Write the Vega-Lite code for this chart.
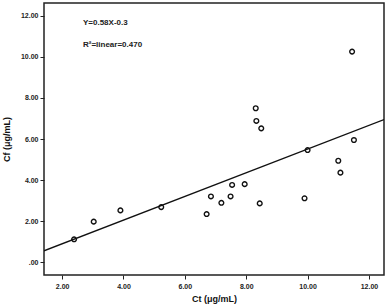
{
  "$schema": "https://vega.github.io/schema/vega-lite/v6.json",
  "width": 340,
  "height": 272,
  "autosize": {"type": "none"},
  "padding": {"left": 44, "top": 3, "right": 5, "bottom": 31},
  "background": "white",
  "config": {
    "view": {"stroke": "#222", "strokeWidth": 1.5},
    "font": "Liberation Sans",
    "axis": {
      "grid": false,
      "domain": false,
      "tickColor": "#222",
      "tickSize": 4,
      "labelFont": "Liberation Sans",
      "labelFontSize": 7,
      "labelFontWeight": "bold",
      "labelColor": "#222",
      "titleFont": "Liberation Sans",
      "titleFontSize": 9,
      "titleFontWeight": "bold",
      "titleColor": "#111"
    }
  },
  "datasets": {
    "pts": [
      {"ct": 2.39, "cf": 1.11},
      {"ct": 3.03, "cf": 1.97},
      {"ct": 3.90, "cf": 2.52},
      {"ct": 5.23, "cf": 2.68},
      {"ct": 6.71, "cf": 2.34},
      {"ct": 6.85, "cf": 3.20},
      {"ct": 7.19, "cf": 2.89},
      {"ct": 7.49, "cf": 3.20},
      {"ct": 7.54, "cf": 3.76},
      {"ct": 7.95, "cf": 3.80},
      {"ct": 8.44, "cf": 2.86},
      {"ct": 9.90, "cf": 3.11},
      {"ct": 10.0, "cf": 5.46},
      {"ct": 11.0, "cf": 4.94},
      {"ct": 11.07, "cf": 4.36},
      {"ct": 11.45, "cf": 10.26},
      {"ct": 8.31, "cf": 7.50},
      {"ct": 8.33, "cf": 6.88},
      {"ct": 8.49, "cf": 6.52},
      {"ct": 11.51, "cf": 5.95}
    ],
    "fit": [
      {"ct": 1.41, "cf": 0.55},
      {"ct": 12.49, "cf": 6.95}
    ],
    "notes": [
      {"ct": 2.68, "cf": 11.66, "label": "Y=0.58X-0.3"},
      {"ct": 2.68, "cf": 10.59, "label": "R²=linear=0.470"}
    ]
  },
  "layer": [
    {
      "data": {"name": "fit"},
      "mark": {"type": "line", "color": "#111", "strokeWidth": 1.3, "clip": true},
      "encoding": {
        "x": {"field": "ct", "type": "quantitative"},
        "y": {"field": "cf", "type": "quantitative"}
      }
    },
    {
      "data": {"name": "pts"},
      "mark": {"type": "point", "shape": "circle", "filled": false, "color": "#111", "size": 22, "strokeWidth": 1.4, "opacity": 1},
      "encoding": {
        "x": {"field": "ct", "type": "quantitative"},
        "y": {"field": "cf", "type": "quantitative"}
      }
    },
    {
      "data": {"name": "notes"},
      "mark": {"type": "text", "align": "left", "baseline": "middle", "fontSize": 8, "fontWeight": "bold", "color": "#222", "font": "Liberation Sans"},
      "encoding": {
        "x": {"field": "ct", "type": "quantitative"},
        "y": {"field": "cf", "type": "quantitative"},
        "text": {"field": "label"}
      }
    }
  ],
  "resolve": {"scale": {"x": "shared", "y": "shared"}},
  "encoding": {
    "x": {
      "field": "ct", "type": "quantitative",
      "scale": {"domain": [1.41, 12.49], "nice": false, "zero": false},
      "axis": {"values": [2, 4, 6, 8, 10, 12], "labelExpr": "format(datum.value, '.2f')", "title": "Ct (μg/mL)", "titlePadding": 5, "labelPadding": 3}
    },
    "y": {
      "field": "cf", "type": "quantitative",
      "scale": {"domain": [-0.63, 12.63], "nice": false, "zero": false},
      "axis": {"values": [0, 2, 4, 6, 8, 10, 12], "labelExpr": "datum.value == 0 ? '.00' : format(datum.value, '.2f')", "title": "Cf (μg/mL)", "titlePadding": 9, "labelPadding": 2}
    }
  }
}
